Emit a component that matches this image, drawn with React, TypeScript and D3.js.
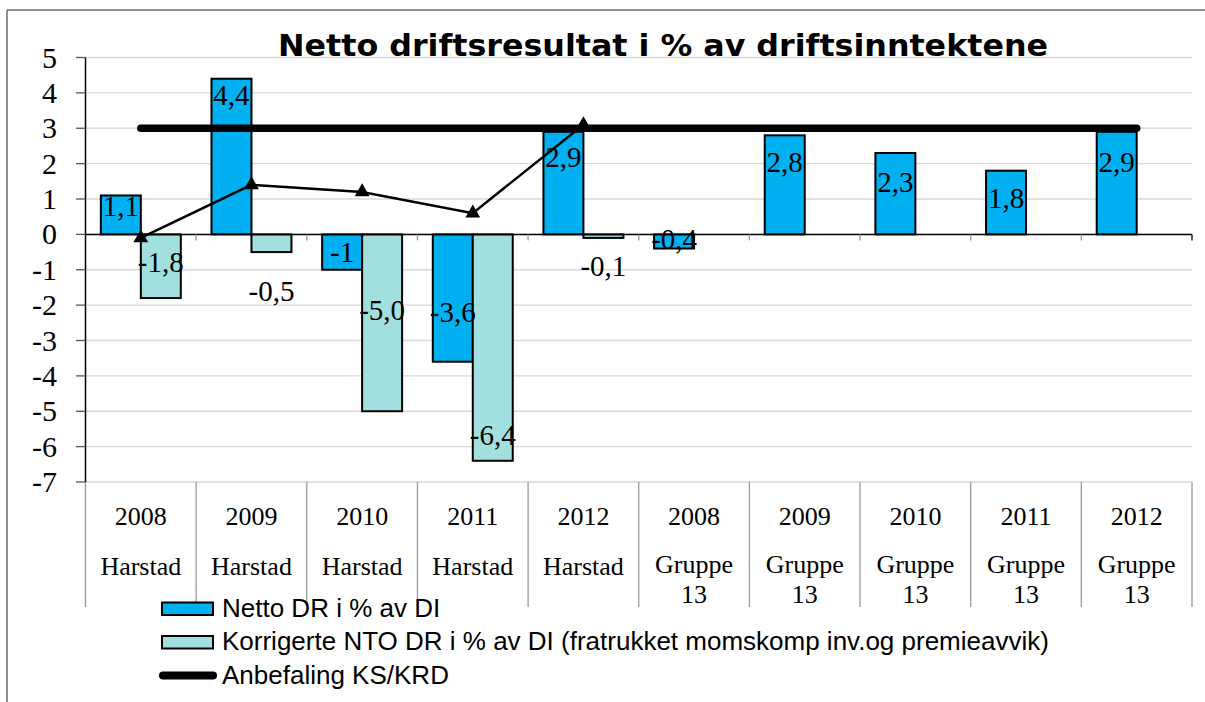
import React from 'react';
import * as d3 from 'd3';

const title = 'Netto driftsresultat i % av driftsinntektene';
const years = ['2008', '2009', '2010', '2011', '2012', '2008', '2009', '2010', '2011', '2012'];
const groups = ['Harstad', 'Harstad', 'Harstad', 'Harstad', 'Harstad', 'Gruppe 13', 'Gruppe 13', 'Gruppe 13', 'Gruppe 13', 'Gruppe 13'];

const netto = [1.1, 4.4, -1, -3.6, 2.9, -0.4, 2.8, 2.3, 1.8, 2.9];
const nettoLabels = ['1,1', '4,4', '-1', '-3,6', '2,9', '-0,4', '2,8', '2,3', '1,8', '2,9'];
const nettoLabelAt = [0.81, 3.94, -0.49, -2.2, 2.19, -0.14, 2.06, 1.47, 1.04, 2.06];

const korrigert: (number | null)[] = [-1.8, -0.5, -5.0, -6.4, -0.1, null, null, null, null, null];
const korrigertLabels = ['-1,8', '-0,5', '-5,0', '-6,4', '-0,1'];
const korrigertLabelAt = [-0.77, -1.59, -2.14, -5.67, -0.89];

const trend = [-0.1, 1.4, 1.2, 0.6, 3.1];
const anbefaling = [3, 3, 3, 3, 3, 3, 3, 3, 3, 3];

const yTicks = [5, 4, 3, 2, 1, 0, -1, -2, -3, -4, -5, -6, -7];
const legendLabels = [
  'Netto DR i % av DI',
  'Korrigerte NTO DR i % av DI (fratrukket momskomp inv.og premieavvik)',
  'Anbefaling KS/KRD',
];

const BLUE = '#00B0F0';
const TEAL = '#A2E0E0';
const SERIF = '"Liberation Serif", "Times New Roman", serif';
const SANS = '"Liberation Sans", Arial, sans-serif';

export default function App() {
  const W = 1205, H = 702;
  const left = 85.5, right = 1192, top = 57.5, bottom = 482;
  const idx = years.map((_, i) => i);
  const x = d3.scaleBand<number>().domain(idx).range([left, right]).padding(0);
  const bw = x.bandwidth();
  const sub = d3.scaleBand<string>().domain(['n', 'k']).range([0, bw]).paddingInner(0).paddingOuter(0.384);
  const y = d3.scaleLinear().domain([-7, 5]).range([bottom, top]);
  const y0 = y(0);
  const cx = (i: number) => (x(i) as number) + bw / 2;

  const trendLine = d3.line<number>().x((_, i) => cx(i)).y((d) => y(d));
  const anbefLine = d3.line<number>().x((_, i) => cx(i)).y((d) => y(d));
  const tri = d3.symbol().type(d3.symbolTriangle).size(95)();

  const boundaries = d3.range(years.length + 1).map((i) => left + i * bw);

  return (
    <svg width={W} height={H} style={{ position: 'absolute', left: 0, top: 0, display: 'block', background: '#fff' }}>
      <rect x={0} y={0} width={W} height={H} fill="#fff" />
      {/* outer border */}
      <line x1={7} y1={10} x2={W} y2={10} stroke="#6b6b6b" strokeWidth={1.5} />
      <line x1={7} y1={10} x2={7} y2={H} stroke="#6b6b6b" strokeWidth={1.5} />

      {/* gridlines */}
      {yTicks.map((t) => (
        <line key={'g' + t} x1={left} x2={right} y1={y(t)} y2={y(t)} stroke="#d9d9d9" strokeWidth={1.3} />
      ))}

      {/* title */}
      <text x={663} y={56} textAnchor="middle" fontFamily='"DejaVu Sans", Verdana, sans-serif' fontWeight="bold" fontSize={30}
        textLength={770} lengthAdjust="spacingAndGlyphs" fill="#000">{title}</text>

      {/* category separators in label area */}
      {boundaries.map((b, i) => (
        <line key={'s' + i} x1={b} x2={b} y1={bottom} y2={607} stroke="#9a9a9a" strokeWidth={1.3} />
      ))}

      {/* bars netto */}
      {netto.map((v, i) => {
        const bx = (x(i) as number) + (sub('n') as number);
        return <rect key={'n' + i} x={bx} width={sub.bandwidth()} y={Math.min(y(v), y0)} height={Math.abs(y(v) - y0)}
          fill={BLUE} stroke="#000" strokeWidth={2} />;
      })}
      {/* bars korrigert */}
      {korrigert.map((v, i) => {
        if (v == null) return null;
        const bx = (x(i) as number) + (sub('k') as number);
        return <rect key={'k' + i} x={bx} width={sub.bandwidth()} y={Math.min(y(v), y0)} height={Math.abs(y(v) - y0)}
          fill={TEAL} stroke="#000" strokeWidth={2} />;
      })}

      {/* zero axis */}
      <line x1={left} x2={right} y1={y0} y2={y0} stroke="#000" strokeWidth={1.5} />
      {boundaries.slice(1).map((b, i) => (
        <line key={'zt' + i} x1={b} x2={b} y1={y0} y2={y0 + 6} stroke={i === boundaries.length - 2 ? '#000' : '#999'} strokeWidth={1.3} />
      ))}

      {/* y axis */}
      <line x1={left} x2={left} y1={top} y2={bottom} stroke="#000" strokeWidth={1.5} />
      {yTicks.map((t) => (
        <g key={'t' + t}>
          <line x1={76} x2={left} y1={y(t)} y2={y(t)} stroke="#555" strokeWidth={1.3} />
          <text x={57} y={y(t) + 10} textAnchor="end" fontFamily={SERIF} fontSize={30} fill="#000">{String(t)}</text>
        </g>
      ))}

      {/* anbefaling line */}
      <path d={anbefLine(anbefaling) || ''} fill="none" stroke="#000" strokeWidth={7.5} strokeLinecap="round" />

      {/* trend line with triangles */}
      <path d={trendLine(trend) || ''} fill="none" stroke="#000" strokeWidth={2.5} />
      {trend.map((v, i) => (
        <path key={'tr' + i} d={tri || ''} transform={`translate(${cx(i)},${y(v)})`} fill="#000" />
      ))}

      {/* data labels */}
      {netto.map((v, i) => {
        const bx = (x(i) as number) + (sub('n') as number) + sub.bandwidth() / 2;
        return <text key={'nl' + i} x={bx} y={y(nettoLabelAt[i]) + 10} textAnchor="middle" fontFamily={SERIF} fontSize={29} fill="#000">{nettoLabels[i]}</text>;
      })}
      {korrigertLabels.map((l, i) => {
        const bx = (x(i) as number) + (sub('k') as number) + sub.bandwidth() / 2;
        return <text key={'kl' + i} x={bx} y={y(korrigertLabelAt[i]) + 10} textAnchor="middle" fontFamily={SERIF} fontSize={29} fill="#000">{l}</text>;
      })}

      {/* category labels */}
      {years.map((yr, i) => {
        const parts = groups[i].split(' ');
        return (
          <g key={'c' + i}>
            <text x={cx(i)} y={524.5} textAnchor="middle" fontFamily={SERIF} fontSize={26} fill="#000">{yr}</text>
            {parts.map((p, j) => (
              <text key={j} x={cx(i)} y={j === 0 ? (parts.length > 1 ? 573 : 575) : 603} textAnchor="middle" fontFamily={SERIF} fontSize={26} fill="#000">{p}</text>
            ))}
          </g>
        );
      })}

      {/* legend */}
      <rect x={162} y={602.5} width={51} height={12.5} fill={BLUE} stroke="#000" strokeWidth={2} />
      <text x={222} y={616.5} fontFamily={SANS} fontSize={26} fill="#000">{legendLabels[0]}</text>
      <rect x={162} y={636} width={51} height={12.5} fill={TEAL} stroke="#000" strokeWidth={2} />
      <text x={222} y={650} fontFamily={SANS} fontSize={26} fill="#000">{legendLabels[1]}</text>
      <line x1={163} x2={213} y1={675.5} y2={675.5} stroke="#000" strokeWidth={8} strokeLinecap="round" />
      <text x={222} y={683.5} fontFamily={SANS} fontSize={26} fill="#000">{legendLabels[2]}</text>
    </svg>
  );
}
